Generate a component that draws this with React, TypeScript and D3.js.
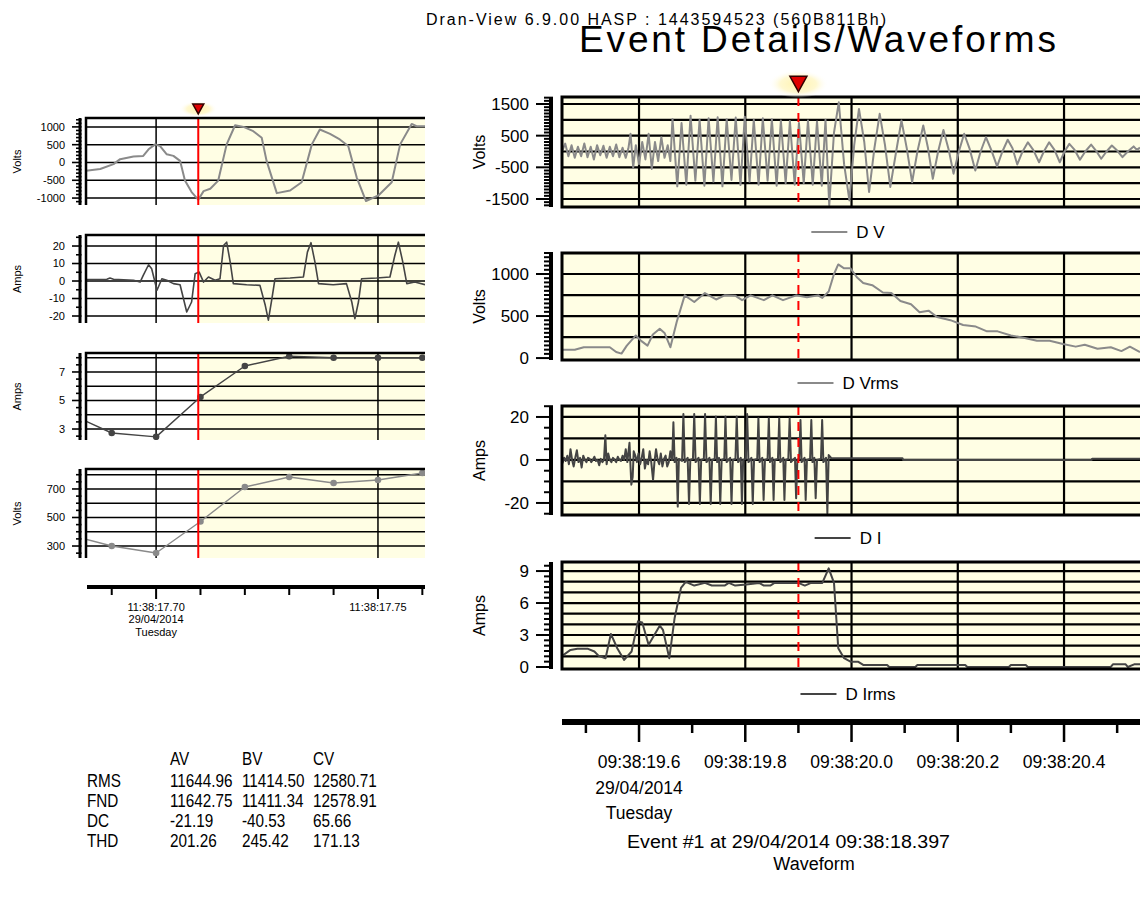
import { useEffect, useRef } from "react";
import * as d3 from "d3";

type Pt = [number, number];

// right-hand charts: time in ms after 09:38:19
const dv: Pt[] = [
  [455, 0], [461, 250], [467, -150], [473, 200], [479, -200], [485, 150], [491, -150], [497, 250],
  [503, -180], [509, 150], [515, -250], [521, 200], [527, -120], [533, 180], [539, -200], [545, 150],
  [551, -150], [557, 220], [563, -180], [569, 120], [575, -200], [580, 100], [584, 560], [589, -500],
  [594, 200], [600, -400], [606, 300], [612, -250], [618, 560], [624, -550], [630, 300], [636, -300],
  [642, 450], [648, -200], [654, 200], [659, -300],
  [663, 1030], [672, -1100], [680, 900], [689, -1050], [697, 1130], [706, -920], [714, 1000], [723, -1080],
  [731, 1050], [740, -950], [748, 1080], [757, -1100], [765, 1020], [774, -900], [782, 1070], [791, -1060],
  [799, 1100], [808, -950], [816, 1000], [825, -1050], [833, 1050], [842, -920], [850, 1020], [859, -1080],
  [867, 980], [876, -1000], [884, 960], [893, -1050], [901, 900], [910, -1000], [918, 980], [927, -1050],
  [935, 950], [944, -1080], [951, 1000], [958, -1700], [967, 600], [976, 1554], [986, -400], [996, -1544],
  [1005, 200], [1014, 1344], [1024, 300], [1033, -1280], [1043, 100], [1053, 1190], [1063, 200], [1073, -1120],
  [1084, 0], [1094, 980], [1104, 100], [1114, -970], [1124, 0], [1135, 820], [1144, 100], [1153, -860],
  [1163, 0], [1173, 680], [1183, 50], [1192, -700], [1202, 0], [1212, 560], [1222, 100], [1233, -600],
  [1243, 0], [1253, 450], [1263, 50], [1274, -470], [1284, 0], [1294, 370], [1303, 100], [1312, -410],
  [1322, 0], [1332, 290], [1342, 50], [1353, -340], [1362, 0], [1372, 290], [1382, 50], [1392, -340],
  [1401, 0], [1410, 240], [1420, 50], [1430, -260], [1440, 0], [1451, 220], [1460, 30], [1470, -230],
  [1480, 0], [1490, 190], [1500, 30], [1510, -180], [1520, 0], [1531, 160], [1537, 50], [1543, 120],
];

const dvrms: Pt[] = [
  [455, 98], [479, 98], [496, 129], [545, 129], [557, 72], [567, 53], [577, 148], [594, 269],
  [604, 205], [616, 148], [626, 280], [639, 348], [648, 299], [659, 129], [671, 432], [686, 746],
  [704, 667], [724, 773], [745, 697], [761, 746], [781, 742], [794, 689], [810, 746], [835, 689],
  [851, 746], [871, 689], [896, 746], [916, 724], [937, 746], [945, 716], [957, 792], [967, 1000],
  [975, 1114], [986, 1068], [998, 1068], [1010, 962], [1022, 894], [1039, 867], [1059, 780], [1075, 773],
  [1092, 678], [1112, 640], [1128, 545], [1145, 564], [1161, 489], [1186, 451], [1210, 394], [1234, 375],
  [1255, 318], [1275, 318], [1300, 269], [1324, 242], [1349, 205], [1373, 205], [1398, 167], [1422, 136],
  [1439, 159], [1463, 110], [1488, 129], [1508, 83], [1524, 136], [1543, 72],
];

const di: Pt[] = [
  [456, -1.5], [459, 1], [462, -0.5], [465, 2], [468, -2], [471, 5], [474, 0], [477, -3], [480, 1],
  [483, 4.5], [486, -1], [489, 1], [492, -3.5], [495, 2], [498, 0], [501, -1], [504, 1], [507, 0.5],
  [510, -1], [513, 0], [516, 1.5], [519, -0.5], [522, 0], [525, -2.5], [528, 0.5], [531, -1], [534, 0],
  [536.6, 11.5], [539, -2], [542, 3], [545, 0], [548, -1], [551, 1], [554, 0], [557, -1], [560, 1.5],
  [563, 0], [566, -0.5], [569, 2], [572, 0], [575, 5], [578, -1], [582, 8], [585.5, -11.5], [588, -8],
  [590, 4], [593, 2], [596, -1], [599, 3], [602, -2], [605, 1], [608, 5], [611, -4], [614, 0], [617, -2],
  [620, 4], [623, -1], [626.4, -9.3], [629, -1], [632, 5], [635, 0], [638, -2], [641, 3], [644, -3],
  [647, 0.5], [650, 2], [653, -3], [656, -1], [659, 4], [662, 0],
  [662.5, 0.5], [664.7, 17.5], [667, -1], [670.5, 1], [672.9, -21.7], [675, 0.5],
  [681, -0.5], [683.5, 21.4], [686, -1], [691.5, 1], [694.1, -20.5], [696.5, 0],
  [701.5, 0.5], [703.9, 21.4], [706.5, -1], [712, 1], [714.5, -20.5], [717, 0],
  [722, 0.5], [724.3, 21.4], [727, -1], [732.5, 1], [734.9, -20.5], [737.5, 0],
  [742.5, 0.5], [744.7, 20.2], [747, -1], [750.5, 1], [752.9, -20.5], [755.5, 0],
  [760.5, 0.5], [762.7, 20.2], [765, -1], [771.5, 1], [774.1, -20.5], [776.5, 0],
  [781.5, 0.5], [783.9, 20.2], [786.5, -1], [791.5, 1], [793.7, -20.5], [796, 0],
  [801, 0.5], [803.5, 21.4], [806, -1], [811.5, 1], [814.1, -20.5], [816.5, 0],
  [822.5, 0.5], [824.7, 19.4], [827, -1], [832, 1], [834.5, -18.6], [837, 0],
  [842, 0.5], [844.3, 19.4], [846.5, -1], [851, 1], [853.3, -18.6], [855.5, 0],
  [861.5, 0.5], [863.9, 19.4], [866, -1], [871.5, 1], [873.7, -18.6], [876, 0],
  [881, 0.5], [883.5, 19.4], [886, -1], [893.5, 1], [895.7, -17.8], [898, 0],
  [901.5, 0.5], [903.9, 18.6], [906, -1], [911.5, 1], [913.7, -18.6], [916, 0],
  [922, 0.5], [924.3, 18.6], [926.5, -1], [930, 1], [932.5, -17.8], [935, 0],
  [942.5, 0.5], [944.7, 18.6], [947, -1], [952, 1], [954.5, -24.8], [957, 2.3],
  [962, 0.8], [1096, 0.8], [1097, 0], [1452, 0], [1453, 0.6], [1543, 0.6],
];

const dirms: Pt[] = [
  [455, 1.04], [471, 1.6], [484, 1.7], [504, 1.7], [516, 1.45], [524, 1.04], [537, 0.82], [547, 3.1],
  [559, 1.76], [572, 0.66], [586, 1.45], [598, 4.28], [606, 4.18], [618, 2.08], [639, 3.87], [645, 3.49],
  [657, 0.82], [667, 4.6], [679, 7.42], [688, 7.99], [704, 7.64], [724, 7.89], [737, 7.64], [761, 7.64],
  [769, 7.89], [781, 7.64], [802, 7.74], [826, 7.89], [835, 7.64], [847, 7.64], [855, 7.89], [900, 7.89],
  [912, 7.64], [924, 7.89], [945, 7.89], [957, 9.25], [967, 7.89], [975, 1.76], [986, 0.82], [998, 0.5],
  [1012, 0.5], [1022, 0.19], [1067, 0.19], [1071, 0], [1120, 0], [1124, 0.19], [1214, 0.19], [1218, 0],
  [1296, 0], [1300, 0.19], [1328, 0.19], [1332, 0], [1488, 0], [1492, 0.25], [1516, 0.25], [1520, 0],
  [1532, 0.25], [1543, 0.25],
];

// left-hand charts: time in ms after 11:38:17
const leftVolts: Pt[] = [
  [684.2, -231], [687.4, -185], [690.4, -46], [691.9, 93], [694.9, 167], [697.1, 185], [698.3, 370],
  [699.8, 509], [700.9, 463], [702.4, 231], [703.9, 185], [705.4, 46], [706.5, -509], [708.0, -833],
  [709.5, -1046], [710.7, -805], [712.2, -740], [714.0, -509], [715.9, 509], [717.8, 1046], [719.7, 1000],
  [721.9, 880], [723.8, 694], [724.9, 46], [727.2, -861], [730.2, -787], [732.8, -555], [735.1, 509],
  [736.9, 926], [739.2, 805], [741.4, 648], [743.3, 463], [745.2, -416], [747.3, -1083], [750.1, -926],
  [753.1, -555], [755.0, 509], [757.6, 1083], [758.7, 1018], [760.6, 1018],
];

const leftAmps: Pt[] = [
  [684.2, 0.8], [688.9, 1], [689.6, 1.7], [690.4, 1], [694.9, 0.4], [696.4, -0.6], [697.1, 3.2],
  [698.3, 9.3], [699.0, 7], [700.2, -5.3], [701.3, 1.3], [702.4, 0.4], [703.9, -1.5], [705.4, -2.1],
  [706.9, -17.7], [708.0, -12], [708.8, 4.2], [709.7, 5.1], [710.7, -0.6], [711.8, 2.3], [713.3, 0.4],
  [714.4, 1.3], [715.2, 20.3], [715.9, 22.2], [716.7, 10.8], [717.4, -1.5], [720.4, -2.1], [723.4, -2.5],
  [724.6, -13.9], [725.3, -22.4], [726.1, -10.1], [726.8, 1.3], [730.2, 1.7], [733.2, 2.3], [734.1, 16.5],
  [734.9, 21.9], [735.8, 10.8], [736.6, -1.5], [739.9, -2.1], [742.9, -1.5], [744.1, -12], [744.8, -21.5],
  [745.6, -12], [746.3, 1.3], [749.7, 1.7], [752.7, 2.3], [753.8, 14.6], [754.6, 22.2], [755.6, 10.8],
  [756.5, -1.5], [758.3, -0.6], [760.6, -2.1],
];

const leftRmsTimes = [680, 690, 700, 710, 720, 730, 740, 750, 760];
const leftIrms = [4.14, 2.72, 2.45, 5.25, 7.42, 8.1, 8.0, 8.0, 8.0];
const leftVrms = [383, 300, 251, 472, 714, 784, 742, 763, 812];

const rightMajor = [600, 800, 1000, 1200, 1400];
const rightMinor = [500, 700, 900, 1100, 1300, 1500];
const rightTickLabels = ["09:38:19.6", "09:38:19.8", "09:38:20.0", "09:38:20.2", "09:38:20.4"];
const leftMajor = [700, 750];
const leftMinor = [690, 710, 720, 730, 740, 760];
const leftTickLabels = ["11:38:17.70", "11:38:17.75"];
const dateLines = ["29/04/2014", "Tuesday"];

const statCols = ["AV", "BV", "CV"];
const statRows = ["RMS", "FND", "DC", "THD"];
const statValues = [
  ["11644.96", "11414.50", "12580.71"],
  ["11642.75", "11411.34", "12578.91"],
  ["-21.19", "-40.53", "65.66"],
  ["201.26", "245.42", "171.13"],
];

const eventRight = 900;
const eventLeft = 709.5;

const FONT = "'Liberation Sans', Arial, sans-serif";
const YELLOW = "#FFFEE4";

type Sel = d3.Selection<any, unknown, null, undefined>;

interface PanelOpts {
  id: string;
  x: d3.ScaleLinear<number, number>;
  x0: number;
  x1: number;
  top: number;
  bottom: number;
  domain: [number, number];
  grid: number[];
  labels: number[];
  minor: number;
  vgrid: number[];
  data: Pt[];
  color: string;
  lw: number;
  gridW: number;
  borderW: number;
  axisX: number;
  majorLen: number;
  minorLen: number;
  tickW: number;
  axisW: number;
  labelX: number;
  labelSize: number;
  title: string;
  titleX: number;
  titleSize: number;
  shadeFrom: number | null;
  eventT: number;
  dashed: boolean;
  markers?: boolean;
  bottomBorder: boolean;
}

function drawPanel(svg: Sel, defs: Sel, o: PanelOpts) {
  const y = d3.scaleLinear().domain(o.domain).range([o.bottom, o.top]);
  const g = svg.append("g");
  const h = o.bottom - o.top;

  g.append("rect")
    .attr("x", o.x0).attr("y", o.top).attr("width", o.x1 - o.x0).attr("height", h)
    .attr("fill", o.shadeFrom == null ? YELLOW : "#fff");
  if (o.shadeFrom != null) {
    const sx = o.x(o.shadeFrom);
    g.append("rect")
      .attr("x", sx).attr("y", o.top).attr("width", o.x1 - sx).attr("height", h)
      .attr("fill", YELLOW);
  }

  g.append("g").selectAll("line").data(o.grid).join("line")
    .attr("x1", o.x0).attr("x2", o.x1)
    .attr("y1", (d) => y(d)).attr("y2", (d) => y(d))
    .attr("stroke", "#000").attr("stroke-width", o.gridW);
  g.append("g").selectAll("line").data(o.vgrid).join("line")
    .attr("x1", (d) => o.x(d)).attr("x2", (d) => o.x(d))
    .attr("y1", o.top).attr("y2", o.bottom)
    .attr("stroke", "#000").attr("stroke-width", o.gridW);

  defs.append("clipPath").attr("id", o.id).append("rect")
    .attr("x", o.x0).attr("y", o.top).attr("width", o.x1 - o.x0).attr("height", h);
  const plot = g.append("g").attr("clip-path", `url(#${o.id})`);
  plot.append("path")
    .datum(o.data)
    .attr("d", d3.line<Pt>().x((d) => o.x(d[0])).y((d) => y(d[1])))
    .attr("fill", "none")
    .attr("stroke", o.color)
    .attr("stroke-width", o.lw)
    .attr("stroke-linejoin", "round");
  if (o.markers) {
    plot.append("g").selectAll("circle").data(o.data).join("circle")
      .attr("cx", (d) => o.x(d[0])).attr("cy", (d) => y(d[1]))
      .attr("r", 3.3).attr("fill", o.color);
  }

  const ex = o.x(o.eventT);
  g.append("line")
    .attr("x1", ex).attr("x2", ex).attr("y1", o.top).attr("y2", o.bottom)
    .attr("stroke", "#f00").attr("stroke-width", 2)
    .attr("stroke-dasharray", o.dashed ? "9,7" : null);

  g.append("path")
    .attr("d", o.bottomBorder
      ? `M${o.x1},${o.top}H${o.x0}V${o.bottom}H${o.x1}`
      : `M${o.x1},${o.top}H${o.x0}V${o.bottom}`)
    .attr("fill", "none").attr("stroke", "#000").attr("stroke-width", o.borderW);

  // comb-style value axis
  const ticks: number[] = [];
  for (let i = Math.ceil(o.domain[0] / o.minor - 1e-9); i * o.minor <= o.domain[1] + 1e-9; i++) {
    ticks.push(+(i * o.minor).toFixed(6));
  }
  g.append("g").selectAll("line").data(ticks).join("line")
    .attr("x1", (d) => o.axisX - (o.labels.includes(d) ? o.majorLen : o.minorLen))
    .attr("x2", o.axisX + o.axisW / 2)
    .attr("y1", (d) => y(d)).attr("y2", (d) => y(d))
    .attr("stroke", "#000").attr("stroke-width", o.tickW);
  g.append("line")
    .attr("x1", o.axisX).attr("x2", o.axisX).attr("y1", o.top).attr("y2", o.bottom)
    .attr("stroke", "#000").attr("stroke-width", o.axisW);
  g.append("g").selectAll("text").data(o.labels).join("text")
    .attr("x", o.labelX).attr("y", (d) => y(d)).attr("dy", "0.36em")
    .attr("text-anchor", "end").attr("font-family", FONT).attr("font-size", o.labelSize)
    .text((d) => String(d));

  g.append("text")
    .attr("transform", `translate(${o.titleX},${(o.top + o.bottom) / 2}) rotate(-90)`)
    .attr("text-anchor", "middle").attr("font-family", FONT).attr("font-size", o.titleSize)
    .text(o.title);
}

function legend(svg: Sel, label: string, color: string, cy: number) {
  const t = svg.append("text")
    .attr("y", cy).attr("dy", "0.36em")
    .attr("font-family", FONT).attr("font-size", 17)
    .text(label);
  const w = (t.node() as SVGTextElement).getComputedTextLength();
  const left = 848 - (45 + w) / 2;
  svg.append("line")
    .attr("x1", left).attr("x2", left + 36).attr("y1", cy).attr("y2", cy)
    .attr("stroke", color).attr("stroke-width", 2);
  t.attr("x", left + 45);
}

function marker(svg: Sel, defs: Sel, cx: number, cy: number, size: number, glowRx: number, glowRy: number, id: string) {
  const grad = defs.append("radialGradient").attr("id", id);
  grad.append("stop").attr("offset", "0%").attr("stop-color", "#FFF3B0");
  grad.append("stop").attr("offset", "60%").attr("stop-color", "#FFF8D0");
  grad.append("stop").attr("offset", "100%").attr("stop-color", "#FFFFFF").attr("stop-opacity", 0);
  svg.append("ellipse")
    .attr("cx", cx).attr("cy", cy).attr("rx", glowRx).attr("ry", glowRy)
    .attr("fill", `url(#${id})`);
  svg.append("path")
    .attr("d", `M${cx - size / 2},${cy - size * 0.45}L${cx + size / 2},${cy - size * 0.45}L${cx},${cy + size * 0.45}Z`)
    .attr("fill", "#E00000").attr("stroke", "#300").attr("stroke-width", 1.5);
}

// condensed text, like the narrow face used in the original report
function narrowText(parent: Sel, x: number, y: number, s: string, size: number, sx: number, anchor = "start") {
  parent.append("text")
    .attr("transform", `translate(${x},${y}) scale(${sx},1)`)
    .attr("text-anchor", anchor)
    .attr("font-family", FONT).attr("font-size", size)
    .text(s);
}

export default function App() {
  const ref = useRef<SVGSVGElement>(null);

  useEffect(() => {
    const svg = d3.select(ref.current) as unknown as Sel;
    svg.selectAll("*").remove();
    const defs = svg.append("defs");

    svg.append("text")
      .attr("x", 426).attr("y", 25)
      .attr("font-family", FONT).attr("font-size", 16)
      .attr("textLength", 460).attr("lengthAdjust", "spacing")
      .text("Dran-View 6.9.00 HASP : 1443594523 (560B811Bh)");
    svg.append("text")
      .attr("x", 579).attr("y", 52)
      .attr("font-family", FONT).attr("font-size", 37)
      .attr("textLength", 477).attr("lengthAdjust", "spacing")
      .text("Event Details/Waveforms");

    // right column
    const xr = d3.scaleLinear().domain([455, 1543]).range([562, 1140]);
    const right = {
      x: xr, x0: 562, x1: 1146, vgrid: rightMajor, gridW: 2.2, borderW: 3,
      axisX: 551, majorLen: 15, minorLen: 7, tickW: 2, axisW: 4,
      labelX: 529, labelSize: 17, titleX: 485, titleSize: 16,
      shadeFrom: null, eventT: eventRight, dashed: true, bottomBorder: true,
      lw: 2,
    };
    drawPanel(svg, defs, {
      ...right, id: "p1", top: 97, bottom: 207, domain: [-1753, 1721],
      grid: [-1500, -1000, -500, 0, 500, 1000, 1500], labels: [1500, 500, -500, -1500], minor: 100,
      data: dv, color: "#8A8A8A", title: "Volts",
    });
    drawPanel(svg, defs, {
      ...right, id: "p2", top: 253, bottom: 360, domain: [-23, 1250],
      grid: [250, 500, 750, 1000], labels: [1000, 500, 0], minor: 50,
      data: dvrms, color: "#8A8A8A", title: "Volts",
    });
    drawPanel(svg, defs, {
      ...right, id: "p3", top: 406, bottom: 515, domain: [-25.6, 25.1],
      grid: [-20, -10, 0, 10, 20], labels: [20, 0, -20], minor: 5,
      data: di, color: "#444", title: "Amps",
    });
    drawPanel(svg, defs, {
      ...right, id: "p4", top: 562, bottom: 669, domain: [-0.19, 9.85],
      grid: [1, 2, 3, 4, 5, 6, 7, 8, 9], labels: [9, 6, 3, 0], minor: 0.5,
      data: dirms, color: "#444", title: "Amps",
    });
    legend(svg, "D V", "#8A8A8A", 232);
    legend(svg, "D Vrms", "#8A8A8A", 383);
    legend(svg, "D I", "#444", 538);
    legend(svg, "D Irms", "#444", 694);
    marker(svg, defs, xr(eventRight), 84, 17, 30, 14, "glowR");

    // right time axis
    svg.append("line").attr("x1", 562).attr("x2", 1140).attr("y1", 722).attr("y2", 722)
      .attr("stroke", "#000").attr("stroke-width", 6);
    svg.append("g").selectAll("line").data(rightMajor).join("line")
      .attr("x1", (d) => xr(d)).attr("x2", (d) => xr(d)).attr("y1", 722).attr("y2", 742)
      .attr("stroke", "#000").attr("stroke-width", 2.5);
    svg.append("g").selectAll("line").data(rightMinor).join("line")
      .attr("x1", (d) => xr(d)).attr("x2", (d) => xr(d)).attr("y1", 722).attr("y2", 733)
      .attr("stroke", "#000").attr("stroke-width", 2.5);
    svg.append("g").selectAll("text").data(rightTickLabels).join("text")
      .attr("x", (_d, i) => xr(rightMajor[i])).attr("y", 768)
      .attr("text-anchor", "middle").attr("font-family", FONT).attr("font-size", 17.5)
      .text((d) => d);
    svg.append("g").selectAll("text").data(dateLines).join("text")
      .attr("x", xr(rightMajor[0])).attr("y", (_d, i) => 794 + i * 25)
      .attr("text-anchor", "middle").attr("font-family", FONT).attr("font-size", 17.5)
      .text((d) => d);

    // left column
    const xl = d3.scaleLinear().domain([684.2, 760.6]).range([86, 425]);
    const left = {
      x: xl, x0: 86, x1: 425, vgrid: leftMajor, gridW: 1.5, borderW: 2.5,
      axisX: 80, majorLen: 8, minorLen: 4, tickW: 1.6, axisW: 3,
      labelX: 65, labelSize: 11, titleX: 21, titleSize: 11,
      shadeFrom: eventLeft, eventT: eventLeft, dashed: false, bottomBorder: false,
      lw: 2,
    };
    drawPanel(svg, defs, {
      ...left, id: "l1", top: 118, bottom: 205, domain: [-1195, 1250],
      grid: [-1000, -500, 0, 500, 1000], labels: [1000, 500, 0, -500, -1000], minor: 100,
      data: leftVolts, color: "#8A8A8A", title: "Volts",
    });
    drawPanel(svg, defs, {
      ...left, id: "l2", top: 235, bottom: 323, domain: [-24, 26.3],
      grid: [-20, -10, 0, 10, 20], labels: [20, 10, 0, -10, -20], minor: 5,
      data: leftAmps, color: "#444", title: "Amps", lw: 1.6,
    });
    drawPanel(svg, defs, {
      ...left, id: "l3", top: 353, bottom: 440, domain: [2.23, 8.33],
      grid: [3, 4, 5, 6, 7, 8], labels: [7, 5, 3], minor: 0.5,
      data: leftRmsTimes.map((t, i) => [t, leftIrms[i]] as Pt), color: "#444",
      title: "Amps", markers: true, lw: 1.4,
    });
    drawPanel(svg, defs, {
      ...left, id: "l4", top: 469, bottom: 558, domain: [216, 840],
      grid: [300, 400, 500, 600, 700, 800], labels: [700, 500, 300], minor: 50,
      data: leftRmsTimes.map((t, i) => [t, leftVrms[i]] as Pt), color: "#8A8A8A",
      title: "Volts", markers: true, lw: 1.4,
    });
    marker(svg, defs, xl(eventLeft), 109, 11, 19, 8, "glowL");

    // left time axis
    svg.append("line").attr("x1", 87).attr("x2", 425).attr("y1", 587).attr("y2", 587)
      .attr("stroke", "#000").attr("stroke-width", 4);
    svg.append("g").selectAll("line").data(leftMajor).join("line")
      .attr("x1", (d) => xl(d)).attr("x2", (d) => xl(d)).attr("y1", 587).attr("y2", 599)
      .attr("stroke", "#000").attr("stroke-width", 2);
    svg.append("g").selectAll("line").data(leftMinor).join("line")
      .attr("x1", (d) => xl(d)).attr("x2", (d) => xl(d)).attr("y1", 587).attr("y2", 595)
      .attr("stroke", "#000").attr("stroke-width", 2);
    svg.append("g").selectAll("text").data(leftTickLabels).join("text")
      .attr("x", (_d, i) => xl(leftMajor[i])).attr("y", 611)
      .attr("text-anchor", "middle").attr("font-family", FONT).attr("font-size", 11)
      .text((d) => d);
    svg.append("g").selectAll("text").data(dateLines).join("text")
      .attr("x", xl(leftMajor[0])).attr("y", (_d, i) => 623 + i * 12.5)
      .attr("text-anchor", "middle").attr("font-family", FONT).attr("font-size", 11)
      .text((d) => d);

    // statistics table
    const colX = [170, 242, 313];
    const rowY = [765, 787, 807, 827, 847];
    const tbl = svg.append("g");
    statCols.forEach((c, i) => narrowText(tbl, colX[i], rowY[0], c, 18, 0.85));
    statRows.forEach((r, i) => {
      narrowText(tbl, 87, rowY[i + 1], r, 18, 0.85);
      statValues[i].forEach((v, j) => narrowText(tbl, colX[j], rowY[i + 1], v, 18, 0.85));
    });

    svg.append("text")
      .attr("x", 627).attr("y", 848)
      .attr("font-family", FONT).attr("font-size", 18)
      .attr("textLength", 323).attr("lengthAdjust", "spacingAndGlyphs")
      .text("Event #1 at 29/04/2014 09:38:18.397");
    svg.append("text")
      .attr("x", 814).attr("y", 870).attr("text-anchor", "middle")
      .attr("font-family", FONT).attr("font-size", 18)
      .text("Waveform");
  }, []);

  return (
    <svg
      ref={ref}
      width={1140}
      height={903}
      style={{ position: "absolute", left: 0, top: 0, background: "#fff" }}
    />
  );
}
